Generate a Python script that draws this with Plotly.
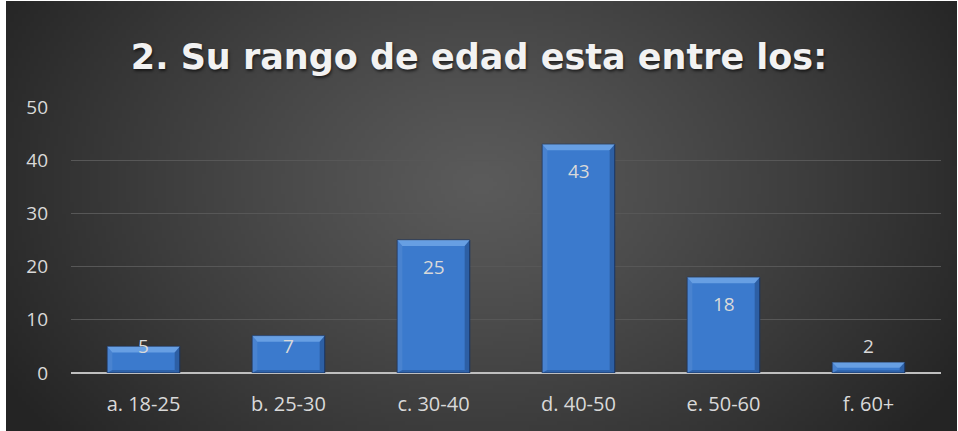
import base64, struct, zlib
import numpy as np
import plotly.graph_objects as go

categories = ["a. 18-25", "b. 25-30", "c. 30-40", "d. 40-50", "e. 50-60", "f. 60+"]
values = [5, 7, 25, 43, 18, 2]
title_text = "2. Su rango de edad esta entre los:"

W, H = 958, 431
L, R, T, B = 71, 17, 107, 58
PW, PH = W - L - R, H - T - B
Y_MAX = 50
px_per_unit = PH / Y_MAX


def radial_png(w, h):
    yy, xx = np.mgrid[0:h, 0:w].astype(float)
    cx, cy = w * 0.5, h * 0.42
    d = np.sqrt(((xx - cx) / (w * 0.58)) ** 2 + ((yy - cy) / (h * 0.95)) ** 2)
    d = np.clip(d, 0, 1)
    c = 0x5b - (0x5b - 0x24) * d ** 1.15
    img = np.clip(c, 0, 255).astype(np.uint8)
    rgb = np.stack([img, img, img], axis=-1)
    raw = b"".join(b"\x00" + rgb[i].tobytes() for i in range(h))

    def chunk(t, data):
        ch = t + data
        return struct.pack(">I", len(data)) + ch + struct.pack(">I", zlib.crc32(ch) & 0xFFFFFFFF)

    png = b"\x89PNG\r\n\x1a\n" + chunk(b"IHDR", struct.pack(">IIBBBBB", w, h, 8, 2, 0, 0, 0))
    png += chunk(b"IDAT", zlib.compress(raw, 9)) + chunk(b"IEND", b"")
    return "data:image/png;base64," + base64.b64encode(png).decode()


fig = go.Figure()
fig.add_trace(go.Bar(
    x=list(range(len(categories))), y=values, width=0.5,
    marker=dict(color="#3b7acd", line=dict(color="#1b3560", width=1)),
    hoverinfo="skip",
))

# bevel facets derived from the bar values
shapes = []
dx = 0.035
for i, v in enumerate(values):
    x0, x1 = i - 0.25, i + 0.25
    dy = min(6 / px_per_unit, v / 2)
    db = min(3 / px_per_unit, v / 4)
    facets = [
        ([(x0, v), (x1, v), (x1 - dx, v - dy), (x0 + dx, v - dy)], "rgba(140,190,245,0.55)"),
        ([(x0, 0), (x0, v), (x0 + dx, v - dy), (x0 + dx, db)], "rgba(100,150,215,0.35)"),
        ([(x1, 0), (x1, v), (x1 - dx, v - dy), (x1 - dx, db)], "rgba(20,45,90,0.35)"),
        ([(x0, 0), (x1, 0), (x1 - dx, db), (x0 + dx, db)], "rgba(20,45,90,0.30)"),
    ]
    for pts, col in facets:
        path = "M " + " L ".join(f"{px},{py}" for px, py in pts) + " Z"
        shapes.append(dict(type="path", xref="x", yref="y", path=path,
                           fillcolor=col, line=dict(width=0), layer="above"))

# thin white page strips around the chart image (left, top, right)
def px_rect(x0p, y0p, x1p, y1p):
    return dict(type="rect", xref="paper", yref="paper",
                x0=(x0p - L) / PW, x1=(x1p - L) / PW,
                y0=1 - (y0p - T) / PH, y1=1 - (y1p - T) / PH,
                fillcolor="white", line=dict(width=0), layer="above")

shapes += [px_rect(0, 0, 6, H), px_rect(0, 0, W, 1), px_rect(W - 1, 0, W, H)]

# data labels (inside end, Excel-like; outside when bar too short)
annotations = []
for i, v in enumerate(values):
    bar_px = v * px_per_unit
    if bar_px < 17:
        shift = 16
    else:
        shift = -max(0, min(27, bar_px - 27))
    annotations.append(dict(x=i, y=v, xref="x", yref="y", text=str(v), showarrow=False,
                            yshift=shift, yanchor="middle",
                            font=dict(family="Open Sans", size=19, color="#d9d9d9")))

fig.update_layout(
    width=W, height=H,
    margin=dict(l=L, r=R, t=T, b=B),
    paper_bgcolor="#262626", plot_bgcolor="rgba(0,0,0,0)",
    images=[dict(source=radial_png(240, 108), xref="paper", yref="paper",
                 x=-L / PW, y=1 + T / PH, sizex=W / PW, sizey=H / PH,
                 xanchor="left", yanchor="top", sizing="stretch", layer="below")],
    title=dict(text=f"<b>{title_text}</b>", x=0.5, xanchor="center",
               y=1 - 57 / H, yanchor="middle", yref="container",
               font=dict(family="DejaVu Sans", size=35, color="#f2f2f2",
                         shadow="1px 2px 3px rgba(0,0,0,0.6)")),
    showlegend=False,
    shapes=shapes,
    annotations=annotations,
    xaxis=dict(tickmode="array", tickvals=list(range(len(categories))), ticktext=categories,
               range=[-0.5, len(categories) - 0.5], showgrid=False, zeroline=False,
               showline=False, ticks="", ticklabelstandoff=17,
               tickfont=dict(family="Open Sans", size=20, color="#d9d9d9")),
    yaxis=dict(range=[0, Y_MAX], dtick=10, showgrid=True, gridcolor="#575757", gridwidth=1,
               zeroline=True, zerolinecolor="#bfbfbf", zerolinewidth=2,
               showline=False, ticks="", ticklabelstandoff=22,
               tickfont=dict(family="Open Sans", size=19, color="#d9d9d9")),
)

fig.write_html("out.html")
